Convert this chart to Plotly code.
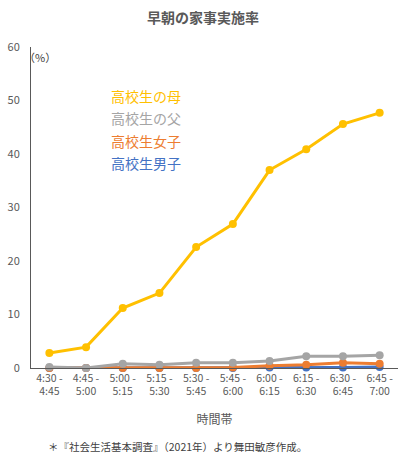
import plotly.graph_objects as go

categories = ["4:30 -<br>4:45", "4:45 -<br>5:00", "5:00 -<br>5:15", "5:15 -<br>5:30", "5:30 -<br>5:45",
              "5:45 -<br>6:00", "6:00 -<br>6:15", "6:15 -<br>6:30", "6:30 -<br>6:45", "6:45 -<br>7:00"]
mother = [2.8, 3.9, 11.2, 14.0, 22.6, 26.9, 37.0, 40.9, 45.6, 47.7]
father = [0.2, 0.0, 0.8, 0.6, 1.0, 1.0, 1.3, 2.2, 2.2, 2.4]
girl = [0.0, 0.0, 0.0, 0.0, 0.0, 0.1, 0.4, 0.6, 1.0, 0.8]
boy = [0.0, 0.0, 0.0, 0.0, 0.0, 0.0, 0.1, 0.1, 0.1, 0.2]
names = ["高校生男子", "高校生女子", "高校生の父", "高校生の母"]
colors = ["#4472C4", "#ED7D31", "#A5A5A5", "#FFC000"]
series = [boy, girl, father, mother]

FONT = "Noto Sans CJK JP"
fig = go.Figure()
x = list(range(len(categories)))
for name, vals, c in zip(names, series, colors):
    fig.add_trace(go.Scatter(x=x, y=vals, name=name, mode="lines+markers",
                             line=dict(color=c, width=3), marker=dict(color=c, size=8),
                             cliponaxis=False))

# legend labels as annotations
leg_order = [3, 2, 1, 0]
for i, idx in enumerate(leg_order):
    fig.add_annotation(text=names[idx], xref="paper", yref="paper", x=0.213, y=0.848 - i * 0.07,
                       xanchor="left", yanchor="middle", showarrow=False,
                       font=dict(family=FONT, size=14, color=colors[idx]))

fig.add_annotation(text="（%）", xref="paper", yref="paper", x=-0.025, y=0.97, xanchor="left",
                   yanchor="middle", showarrow=False, font=dict(family=FONT, size=11, color="#404040"))
fig.add_annotation(text="＊『社会生活基本調査』（2021年）より舞田敏彦作成。", xref="paper", yref="paper",
                   x=0.4, y=-0.245, xanchor="center", yanchor="middle", showarrow=False,
                   font=dict(family=FONT, size=10.5, color="#404040"))

fig.update_layout(
    width=406, height=465, margin=dict(l=29, r=8, t=47, b=97),
    paper_bgcolor="white", plot_bgcolor="white", showlegend=False,
    font=dict(family=FONT, color="#595959", size=11),
    title=dict(text="<b>早朝の家事実施率</b>", x=0.5, xanchor="center", y=0.962, yanchor="middle",
               font=dict(family=FONT, size=14, color="#595959")),
    xaxis=dict(tickmode="array", tickvals=x, ticktext=categories, range=[-0.5, 9.5],
               showline=True, linecolor="#595959", linewidth=1, showgrid=False, zeroline=False,
               ticks="", tickfont=dict(size=10.5, color="#595959"),
               title=dict(text="時間帯", font=dict(size=12, color="#595959"), standoff=18)),
    yaxis=dict(range=[0, 60], dtick=10, showline=True, linecolor="#595959", linewidth=1,
               showgrid=False, zeroline=False, ticks="", ticklabelstandoff=8,
               tickfont=dict(size=11, color="#595959")),
)
fig.write_html("out.html")
